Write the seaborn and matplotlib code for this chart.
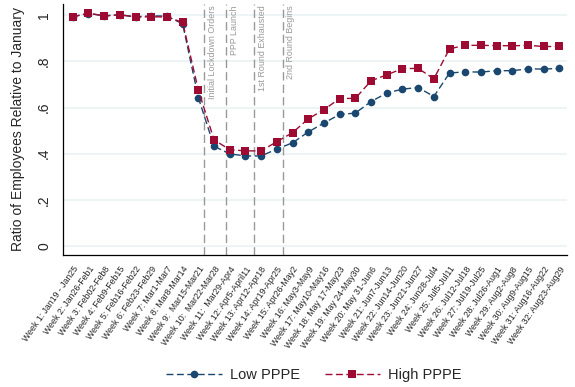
import pandas as pd
import seaborn as sns
import matplotlib.pyplot as plt
from matplotlib.lines import Line2D

weeks = list(range(1, 33))
week_labels = [
    'Week 1: Jan19 - Jan25', 'Week 2: Jan26-Feb1', 'Week 3: Feb02-Feb8', 'Week 4: Feb9-Feb15',
    'Week 5: Feb16-Feb22', 'Week 6: Feb23-Feb29', 'Week 7: Mar1-Mar7', 'Week 8: Mar8-Mar14',
    'Week 9:  Mar15-Mar21', 'Week 10:  Mar22-Mar28', 'Week 11:  Mar29-Apr4', 'Week 12: Apr5-April11',
    'Week 13: Apr12-Apr18', 'Week 14: Apr19-Apr25', 'Week 15: Apr26-May2', 'Week 16: May3-May9',
    'Week 17: May10-May16', 'Week 18: May 17-May23', 'Week 19: May 24-May30', 'Week 20: May 31-Jun6',
    'Week 21: Jun7-Jun13', 'Week 22: Jun14-Jun20', 'Week 23: Jun21-Jun27', 'Week 24: Jun28-Jul4',
    'Week 25: Jul5-Jul11', 'Week 26: Jul12-Jul18', 'Week 27: Jul19-Jul25', 'Week 28: Jul26-Aug1',
    'Week 29: Aug2-Aug8', 'Week 30: Aug9-Aug15', 'Week 31: Aug16-Aug22', 'Week 32: Aug23-Aug29',
]
low_pppe = [0.995, 1.008, 0.999, 1.002, 0.994, 0.998, 0.997, 0.963, 0.643, 0.432, 0.399, 0.390,
            0.390, 0.420, 0.447, 0.494, 0.533, 0.570, 0.576, 0.626, 0.663, 0.680, 0.687, 0.648,
            0.750, 0.755, 0.754, 0.760, 0.760, 0.768, 0.767, 0.770]
high_pppe = [0.993, 1.010, 0.997, 1.003, 0.993, 0.994, 0.993, 0.970, 0.676, 0.460, 0.417, 0.412,
             0.412, 0.452, 0.491, 0.551, 0.591, 0.639, 0.640, 0.716, 0.742, 0.769, 0.770, 0.725,
             0.855, 0.870, 0.870, 0.869, 0.868, 0.870, 0.865, 0.865]
event_weeks = [9.38, 10.78, 12.56, 14.36]
event_labels = ['Initial Lockdown Orders', 'PPP Launch', '1st Round Exhausted', '2nd Round Begins']

navy = '#1a476f'
maroon = '#9e0b32'

df = pd.DataFrame({
    'week': weeks * 2,
    'ratio': low_pppe + high_pppe,
    'group': ['Low PPPE'] * len(weeks) + ['High PPPE'] * len(weeks),
})

sns.set_style('white')
plt.rcParams['font.family'] = ['Liberation Sans', 'DejaVu Sans']

fig = plt.figure(figsize=(5.75, 3.87), dpi=100)
ax = fig.add_axes([0.1096, 0.341, 0.877, 0.649])

# light horizontal grid like Stata's s2color scheme
for y in [0, 0.2, 0.4, 0.6, 0.8, 1.0]:
    ax.axhline(y, color='#eaf2f3', lw=1.2, zorder=0)

sns.lineplot(data=df, x='week', y='ratio', hue='group', style='group',
             palette={'Low PPPE': navy, 'High PPPE': maroon},
             markers={'Low PPPE': 'o', 'High PPPE': 's'},
             dashes={'Low PPPE': (5, 2.5), 'High PPPE': (5, 2.5)},
             markersize=5.5, markeredgewidth=0, linewidth=1, legend=False, ax=ax)

for xv, lab in zip(event_weeks, event_labels):
    ax.axvline(xv, color='#999999', lw=1, dashes=(6, 3), zorder=1)
    ax.text(xv + 0.22, 1.045, lab, rotation=90, ha='left', va='top',
            fontsize=6.4, color='#999999')

ax.set_xlim(0.38, 32.5)
ax.set_ylim(-0.04, 1.05)
ax.set_xticks(weeks)
ax.set_xticklabels(week_labels, rotation=55, ha='right', rotation_mode='anchor', fontsize=6.3)
ax.set_yticks([0, 0.2, 0.4, 0.6, 0.8, 1.0])
ax.set_yticklabels(['0', '.2', '.4', '.6', '.8', '1'], rotation=90, va='center', fontsize=10)
ax.tick_params(axis='both', length=5, width=0.8, color='black', direction='out')
ax.tick_params(axis='x', pad=2)
ax.set_xlabel('')
ax.set_ylabel('Ratio of Employees Relative to January', fontsize=10, labelpad=9)
for s in ['top', 'right']:
    ax.spines[s].set_visible(False)
for s in ['left', 'bottom']:
    ax.spines[s].set_color('black')
    ax.spines[s].set_linewidth(0.9)

handles = [
    Line2D([], [], color=navy, marker='o', markersize=5.5, markeredgewidth=0, lw=1, dashes=(5, 2.5)),
    Line2D([], [], color=maroon, marker='s', markersize=5.5, markeredgewidth=0, lw=1, dashes=(5, 2.5)),
]
fig.legend(handles, ['Low PPPE', 'High PPPE'], loc='center', bbox_to_anchor=(0.546, 0.031),
           ncol=2, frameon=False, fontsize=10.5, handlelength=3.8, handletextpad=0.55,
           columnspacing=1.7)

fig.savefig('out.png', dpi=100)
